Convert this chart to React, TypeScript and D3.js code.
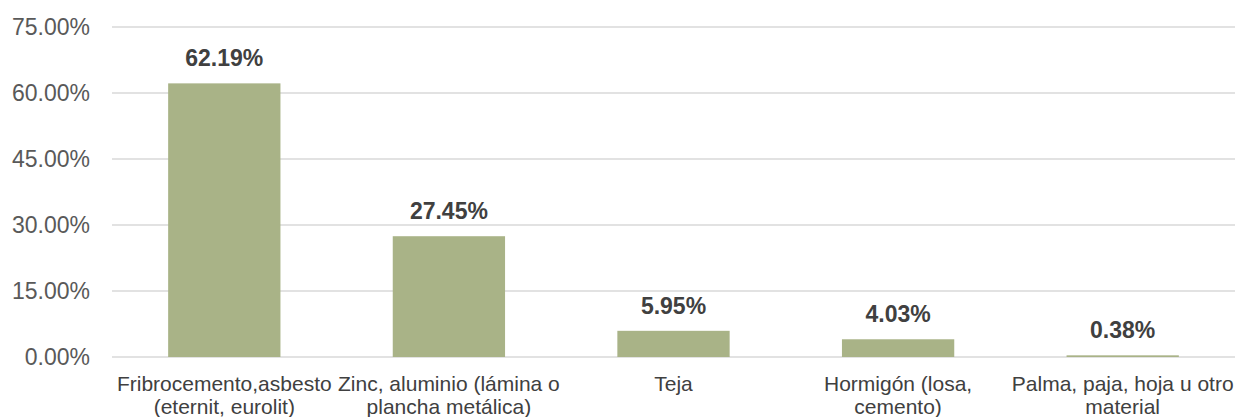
import React from "react";
import * as d3 from "d3";

const categories: string[][] = [
  ["Fribrocemento,asbesto", "(eternit, eurolit)"],
  ["Zinc, aluminio (lámina o", "plancha metálica)"],
  ["Teja"],
  ["Hormigón (losa,", "cemento)"],
  ["Palma, paja, hoja u otro", "material"],
];
const values: number[] = [62.19, 27.45, 5.95, 4.03, 0.38];
const ticks: number[] = [0, 15, 30, 45, 60, 75];

const W = 1241;
const H = 417;
const left = 112;
const right = 1235;
const y0 = 357;
const yTop = 27;

export default function App() {
  const x = d3
    .scaleBand<number>()
    .domain(values.map((_, i) => i))
    .range([left, right])
    .paddingInner(0.5)
    .paddingOuter(0.25);
  const y = d3.scaleLinear().domain([0, 75]).range([y0, yTop]);
  const font = "Arial, 'Liberation Sans', sans-serif";
  return (
    <svg
      width={W}
      height={H}
      style={{ position: "absolute", left: 0, top: 0, background: "#fff" }}
      fontFamily={font}
    >
      {ticks.map((t) => (
        <g key={t}>
          <line x1={left} x2={right} y1={y(t)} y2={y(t)} stroke="#d9d9d9" strokeWidth={1.5} />
          <text x={90} y={y(t)} dy="0.35em" textAnchor="end" fontSize={23} fill="#595959">
            {t.toFixed(2) + "%"}
          </text>
        </g>
      ))}
      {values.map((v, i) => (
        <g key={i}>
          <rect
            x={x(i)!}
            y={y(v)}
            width={x.bandwidth()}
            height={y0 - y(v)}
            fill="#a9b387"
          />
          <text
            x={x(i)! + x.bandwidth() / 2}
            y={y(v) - 17}
            textAnchor="middle"
            fontSize={23}
            fontWeight="bold"
            fill="#404040"
          >
            {v.toFixed(2) + "%"}
          </text>
        </g>
      ))}
      {categories.map((lines, i) =>
        lines.map((ln, j) => (
          <text
            key={i + "-" + j}
            x={x(i)! + x.bandwidth() / 2}
            y={391 + j * 23}
            textAnchor="middle"
            fontSize={21}
            fill="#404040"
          >
            {ln}
          </text>
        ))
      )}
    </svg>
  );
}
